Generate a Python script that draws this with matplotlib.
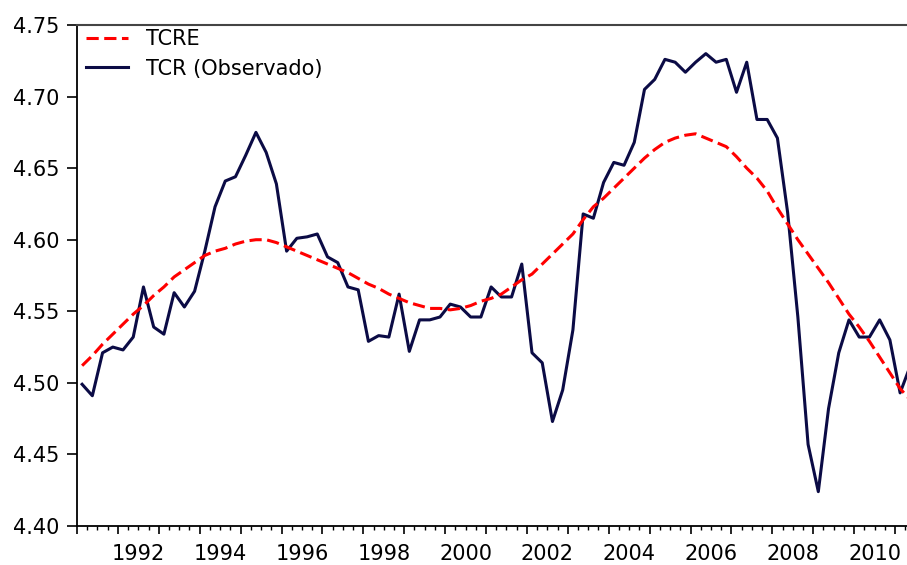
import matplotlib
matplotlib.use("Agg")
import matplotlib.pyplot as plt
import numpy as np

plt.rcParams['font.family'] = ['DejaVu Sans']

# Quarterly observations 1991Q1 .. 2011Q2
start_year = 1991
tcr_observado = [
    4.499, 4.491, 4.521, 4.525, 4.523, 4.532, 4.567, 4.539, 4.534, 4.563,
    4.553, 4.564, 4.592, 4.623, 4.641, 4.644, 4.659, 4.675, 4.661, 4.639,
    4.592, 4.601, 4.602, 4.604, 4.588, 4.584, 4.567, 4.565, 4.529, 4.533,
    4.532, 4.562, 4.522, 4.544, 4.544, 4.546, 4.555, 4.553, 4.546, 4.546,
    4.567, 4.560, 4.560, 4.583, 4.521, 4.514, 4.473, 4.495, 4.537, 4.618,
    4.615, 4.640, 4.654, 4.652, 4.668, 4.705, 4.712, 4.726, 4.724, 4.717,
    4.724, 4.730, 4.724, 4.726, 4.703, 4.724, 4.684, 4.684, 4.671, 4.619,
    4.546, 4.457, 4.424, 4.482, 4.521, 4.544, 4.532, 4.532, 4.544, 4.530,
    4.493, 4.512,
]
tcre = [
    4.512, 4.519, 4.527, 4.534, 4.541, 4.548, 4.554, 4.561, 4.567, 4.574,
    4.579, 4.584, 4.589, 4.592, 4.594, 4.597, 4.599, 4.600, 4.600, 4.598,
    4.595, 4.592, 4.589, 4.586, 4.583, 4.580, 4.577, 4.573, 4.569, 4.566,
    4.562, 4.559, 4.556, 4.554, 4.552, 4.552, 4.551, 4.552, 4.554, 4.557,
    4.559, 4.562, 4.567, 4.572, 4.576, 4.583, 4.590, 4.597, 4.604, 4.614,
    4.623, 4.629, 4.636, 4.643, 4.650, 4.657, 4.663, 4.668, 4.671, 4.673,
    4.674, 4.671, 4.668, 4.665, 4.658, 4.650, 4.643, 4.634, 4.622, 4.611,
    4.600, 4.590, 4.580, 4.570, 4.559, 4.548, 4.539, 4.529, 4.518, 4.507,
    4.496, 4.488,
]
year_labels = ['1992', '1994', '1996', '1998', '2000', '2002', '2004', '2006', '2008', '2010']
y_ticks = [4.40, 4.45, 4.50, 4.55, 4.60, 4.65, 4.70, 4.75]

n = len(tcr_observado)
t = start_year + (np.arange(n) + 0.5) / 4.0

W, H = 907, 565
fig = plt.figure(figsize=(W / 100, H / 100), dpi=100)
left_px, right_px, top_px, bot_px = 77, 907, 25, 526
ax = fig.add_axes([left_px / W, 1 - bot_px / H, (right_px - left_px) / W, (bot_px - top_px) / H])

navy = '#0b0b45'
red = '#ff0000'
ax.plot(t, tcre, color=red, lw=2.2, linestyle=(0, (4, 1.8)), label='TCRE', zorder=3)
ax.plot(t, tcr_observado, color=navy, lw=2.2, label='TCR (Observado)', zorder=2)

# y axis
ax.set_yticks(y_ticks)
ax.set_yticklabels([f'{v:.2f}' for v in y_ticks])
ax.tick_params(axis='y', direction='out', length=7.5, width=1.2, pad=5, labelsize=15)

# x axis: year ticks (long) + quarter ticks (short), labels centred in years
ax.set_xticks(np.arange(1991, 2012))
ax.set_xticklabels([])
ax.set_xticks(np.arange(1991, 2012, 0.25), minor=True)
ax.tick_params(axis='x', which='major', direction='out', length=5.5, width=1.2)
ax.tick_params(axis='x', which='minor', direction='out', length=3, width=1.0)

sec = ax.secondary_xaxis('bottom')
sec.set_xticks([int(y) + 0.5 for y in year_labels])
sec.set_xticklabels(year_labels)
sec.tick_params(length=0, pad=13, labelsize=15)
sec.spines['bottom'].set_visible(False)

# limits set after ticks (set_xticks may widen the view)
ax.set_xlim(1991.0, 1991.0 + (right_px - left_px) / 40.9)
ax.set_ylim(4.40, 4.75)

for s in ['left', 'bottom']:
    ax.spines[s].set_linewidth(1.3)
ax.spines['top'].set_linewidth(1.5)
ax.spines['top'].set_color('#444444')
ax.spines['right'].set_visible(False)

leg = ax.legend(loc='upper left', bbox_to_anchor=(0.006, 1.0), frameon=False,
                fontsize=15, handlelength=2.0, handletextpad=0.85,
                labelspacing=0.45, borderaxespad=0.2, borderpad=0.0)
for txt in leg.get_texts():
    txt.set_color('black')

fig.savefig('out.png', dpi=100, facecolor='white')
